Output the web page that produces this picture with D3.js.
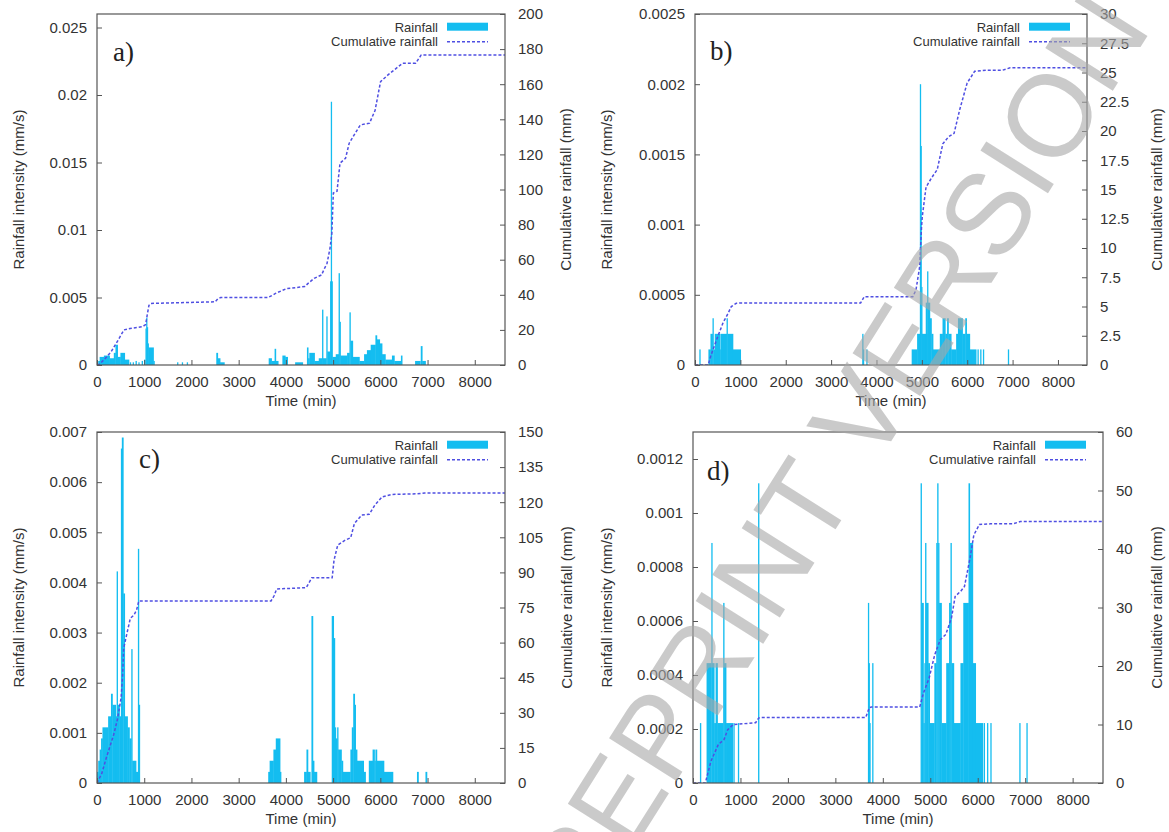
<!DOCTYPE html>
<html><head><meta charset="utf-8">
<script src="https://cdn.jsdelivr.net/npm/d3@7"></script>
<style>
body{margin:0;background:#fff}
svg{display:block}
</style>
</head><body>
<svg id="chart" width="1169" height="832"></svg>
<script>
// ---------------- DATA ----------------
const timeTicks = [0,1000,2000,3000,4000,5000,6000,7000,8000];
const timeTickLabels = ["0","1000","2000","3000","4000","5000","6000","7000","8000"];
const seriesNames = ["Rainfall","Cumulative rainfall"];
const panelNames = ["a)","b)","c)","d)"];

// rainfall intensity runs: [start (min), end (min), intensity (mm/s)]
const rainA = [
 [30,60,0.0003],[60,150,0.0006],[150,270,0.0007],[270,360,0.0005],[360,395,0.0009],[395,440,0.0015],
 [440,500,0.0006],[500,590,0.0009],[590,680,0.0004],[700,715,0.0002],[760,775,0.0002],[820,840,0.0003],
 [880,895,0.0002],[950,970,0.0003],[1000,1020,0.0004],[1030,1045,0.0027],[1045,1060,0.0035],[1060,1075,0.0028],
 [1075,1095,0.0016],[1095,1200,0.0013],[1200,1215,0.0003],[1700,1715,0.0002],[1800,1815,0.0002],[1905,1920,0.0002],
 [2530,2560,0.0009],[2560,2610,0.0005],[2610,2700,0.0002],[3640,3700,0.0005],[3700,3765,0.0003],[3765,3790,0.0012],
 [3790,3840,0.0003],[3930,3990,0.0007],[3990,4040,0.0006],[4200,4360,0.0002],[4450,4475,0.0013],[4475,4500,0.0005],
 [4500,4610,0.0009],[4610,4700,0.0003],[4700,4770,0.0005],[4770,4790,0.0041],[4790,4860,0.0005],[4860,4880,0.0036],
 [4880,4940,0.001],[4940,4955,0.0062],[4955,4970,0.0195],[4970,4990,0.0062],[4990,5060,0.0006],[5060,5120,0.0008],
 [5120,5140,0.0068],[5140,5160,0.0032],[5160,5300,0.0007],[5300,5350,0.0009],[5350,5370,0.0039],[5370,5420,0.0018],
 [5420,5560,0.0006],[5560,5660,0.0003],[5660,5720,0.0008],[5720,5800,0.0011],[5800,5900,0.0015],[5900,5930,0.0022],
 [5930,5990,0.0019],[5990,6040,0.0016],[6040,6110,0.0008],[6110,6250,0.0004],[6250,6300,0.0007],[6300,6440,0.0003],
 [6440,6465,0.0007],[6740,6850,0.0003],[6860,6890,0.0014],[6890,6960,0.0003]
];
const rainB = [
 [100,115,0.000111],[300,345,0.000111],[345,390,0.000222],[390,410,0.000333],[410,440,0.000111],[440,560,0.000222],
 [560,575,0.000111],[575,700,0.000222],[700,720,0.000333],[720,840,0.000222],[840,1010,0.000111],
 [3690,3705,0.000222],[3705,3720,0.000111],[3780,3795,0.000111],
 [4780,4900,0.000111],[4900,4960,0.000222],[4960,4975,0.002],[4975,4990,0.00156],[4990,5005,0.000556],
 [5005,5090,0.000222],[5090,5105,0.000444],[5105,5120,0.000222],[5120,5135,0.000667],[5135,5180,0.000444],
 [5180,5215,0.000333],[5215,5250,0.000222],[5250,5400,0.000111],[5400,5460,0.000222],[5460,5520,0.000333],
 [5520,5560,0.000222],[5560,5590,0.000333],[5590,5650,0.000222],[5650,5760,0.000111],[5760,5800,0.000222],
 [5800,5900,0.000333],[5900,5960,0.000222],[5960,5990,0.000333],[5990,6060,0.000222],[6060,6200,0.000111],
 [6230,6245,0.000111],[6290,6305,0.000111],[6350,6365,0.000111],[6900,6915,0.000111]
];
const rainC = [
 [0,30,0.000222],[30,60,0.000444],[60,90,0.000667],[90,120,0.000889],[120,240,0.00111],[240,300,0.00133],
 [300,330,0.00178],[330,400,0.00156],[400,420,0.00133],[420,440,0.00422],[440,480,0.00156],[480,510,0.00133],
 [510,530,0.00667],[530,560,0.00689],[560,590,0.00378],[590,650,0.00133],[650,690,0.00111],[690,730,0.000889],
 [730,750,0.00267],[750,830,0.000444],[830,870,0.000222],[870,890,0.00467],[890,905,0.00156],
 [3630,3660,0.000222],[3660,3740,0.000444],[3740,3790,0.000667],[3790,3880,0.000889],[3880,3900,0.000222],
 [4390,4440,0.000222],[4440,4470,0.000667],[4470,4520,0.000222],[4545,4575,0.00333],[4575,4600,0.000444],
 [4600,4660,0.000222],[4975,5015,0.00333],[5015,5040,0.00289],[5040,5060,0.00111],[5060,5090,0.000889],
 [5090,5110,0.00111],[5110,5180,0.000667],[5180,5210,0.000444],[5210,5370,0.000222],[5370,5400,0.000667],
 [5400,5430,0.00111],[5430,5460,0.00178],[5460,5480,0.00156],[5480,5510,0.000667],[5510,5650,0.000444],
 [5650,5690,0.000222],[5760,5840,0.000444],[5840,5880,0.000667],[5880,5900,0.000444],[5900,5930,0.000667],
 [5930,6080,0.000444],[6080,6270,0.000222],[6780,6810,0.000222],[6960,6990,0.000222]
];
const rainD = [
 [150,170,0.000222],[290,390,0.000444],[390,405,0.000889],[405,450,0.000444],[450,480,0.000222],[480,520,0.000444],
 [520,640,0.000222],[640,660,0.000667],[660,700,0.000444],[700,840,0.000222],[855,870,0.000222],[950,965,0.000222],
 [1375,1395,0.00111],[3690,3705,0.000667],[3705,3720,0.000444],[3720,3740,0.000222],[3780,3795,0.000444],
 [4800,4820,0.00111],[4820,4860,0.000667],[4860,4880,0.000222],[4880,4895,0.000444],[4895,4915,0.000889],
 [4915,4960,0.000667],[4960,4990,0.000444],[4990,5090,0.000222],[5090,5130,0.000444],[5130,5150,0.000889],
 [5150,5170,0.00111],[5170,5190,0.000889],[5190,5240,0.000667],[5240,5340,0.000222],[5340,5400,0.000444],
 [5400,5430,0.000667],[5430,5450,0.000889],[5450,5500,0.000444],[5500,5640,0.000222],[5640,5700,0.000444],
 [5700,5810,0.000667],[5810,5835,0.00111],[5835,5900,0.000889],[5900,5960,0.000444],[5960,6110,0.000222],
 [6130,6145,0.000222],[6200,6215,0.000222],[6270,6285,0.000222],[6880,6895,0.000222],[7030,7045,0.000222]
];

// cumulative rainfall: [time (min), cumulative (mm)]
const cumA = [[0,0],[50,0.5],[150,3],[300,7.6],[450,14.3],[570,20],[700,20.8],[960,21.8],[1030,23],[1060,28],[1100,34],
 [1140,35.1],[2500,36],[2560,37.8],[2620,38.4],[3620,38.4],[3700,39.5],[3780,40.8],[4010,43.5],[4400,44.7],[4470,46.5],
 [4600,49.4],[4755,51.3],[4800,54],[4872,58],[4934,66.5],[4973,75],[5005,98],[5083,99],[5146,115],[5263,117.8],
 [5341,126.4],[5443,131],[5576,136.8],[5771,137.8],[5888,145],[6005,161.5],[6162,165.3],[6475,172],[6749,172],
 [6866,176.7],[8640,176.7]];
const cumB = [[0,0],[290,0],[350,0.8],[470,2.1],[617,3.6],[727,4.4],[800,5.0],[910,5.27],[1000,5.3],[3650,5.3],
 [3730,5.84],[4800,5.84],[4870,6.4],[4952,8.4],[4993,11.8],[5010,12.7],[5092,15.2],[5215,16],[5339,16.7],[5462,18.9],
 [5586,19.5],[5710,19.8],[5833,21.8],[5998,24.1],[6163,25.1],[6410,25.2],[6780,25.2],[6945,25.4],[8640,25.4]];
const cumC = [[0,0],[100,4],[196,10.7],[353,20.6],[431,27],[510,36.3],[540,45],[565,57.6],[627,63.3],[706,70.4],
 [784,71.8],[839,74],[886,77.8],[3686,77.8],[3750,80],[3804,82.9],[4431,83.5],[4549,87.7],[4980,87.7],[5020,95.3],
 [5098,101.7],[5255,103.8],[5372,104.8],[5451,110.9],[5608,114.5],[5765,114.8],[5882,118.7],[6039,122.3],
 [6235,123.3],[6784,123.6],[6941,123.9],[8640,123.9]];
const cumD = [[0,0],[260,0],[377,3.7],[534,6.6],[652,7.4],[731,9.1],[849,10],[1320,10.3],[1383,11.1],[1420,11.2],
 [3639,11.2],[3717,12.9],[3760,13],[4778,13],[4857,15.4],[4975,17.9],[5093,21.9],[5211,24.5],[5328,25.4],
 [5446,28.2],[5525,31.9],[5643,32.8],[5721,33.6],[5839,38.5],[5918,42.4],[6036,44.2],[6271,44.3],[6743,44.3],
 [6900,44.7],[8640,44.7]];

// tick values and labels
const yTicksA = [0,0.005,0.01,0.015,0.02,0.025];
const yLabelsA = ["0","0.005","0.01","0.015","0.02","0.025"];
const y2TicksA = [0,20,40,60,80,100,120,140,160,180,200];
const y2LabelsA = ["0","20","40","60","80","100","120","140","160","180","200"];
const yTicksB = [0,0.0005,0.001,0.0015,0.002,0.0025];
const yLabelsB = ["0","0.0005","0.001","0.0015","0.002","0.0025"];
const y2TicksB = [0,2.5,5,7.5,10,12.5,15,17.5,20,22.5,25,27.5,30];
const y2LabelsB = ["0","2.5","5","7.5","10","12.5","15","17.5","20","22.5","25","27.5","30"];
const yTicksC = [0,0.001,0.002,0.003,0.004,0.005,0.006,0.007];
const yLabelsC = ["0","0.001","0.002","0.003","0.004","0.005","0.006","0.007"];
const y2TicksC = [0,15,30,45,60,75,90,105,120,135,150];
const y2LabelsC = ["0","15","30","45","60","75","90","105","120","135","150"];
const yTicksD = [0,0.0002,0.0004,0.0006,0.0008,0.001,0.0012];
const yLabelsD = ["0","0.0002","0.0004","0.0006","0.0008","0.001","0.0012"];
const y2TicksD = [0,10,20,30,40,50,60];
const y2LabelsD = ["0","10","20","30","40","50","60"];

const xTitle = "Time (min)";
const yTitle = "Rainfall intensity (mm/s)";
const y2Title = "Cumulative rainfall (mm)";
const watermark = "PREPRINT VERSION";

// ---------------- LAYOUT / STYLE ----------------
const FONT = '"Liberation Sans", Arial, Helvetica, sans-serif';
const BAR = "#14bdf0";
const LINE = "#4f4fe2";
const TXT = "#333";
const FRAME = "#555";

const panels = [
 {name:panelNames[0], rain:rainA, cum:cumA, xMax:8640, yMax:0.026, y2Max:200, yT:yTicksA, yL:yLabelsA, y2T:y2TicksA, y2L:y2LabelsA,
  l:97, r:505, t:14, b:365, ytx:18.5, y2tx:566, lab:[113,61]},
 {name:panelNames[1], rain:rainB, cum:cumB, xMax:8640, yMax:0.0025, y2Max:30, yT:yTicksB, yL:yLabelsB, y2T:y2TicksB, y2L:y2LabelsB,
  l:695, r:1087, t:14, b:365, ytx:607, y2tx:1157, lab:[710,60]},
 {name:panelNames[2], rain:rainC, cum:cumC, xMax:8640, yMax:0.007, y2Max:150, yT:yTicksC, yL:yLabelsC, y2T:y2TicksC, y2L:y2LabelsC,
  l:97, r:505, t:432, b:783, ytx:18.5, y2tx:567, lab:[139,468]},
 {name:panelNames[3], rain:rainD, cum:cumD, xMax:8640, yMax:0.0013, y2Max:60, yT:yTicksD, yL:yLabelsD, y2T:y2TicksD, y2L:y2LabelsD,
  l:693, r:1103, t:432, b:783, ytx:607, y2tx:1157, lab:[707,480]}
];

const svg = d3.select("#chart");

panels.forEach((p, i) => {
  const x = d3.scaleLinear().domain([0, p.xMax]).range([p.l, p.r]);
  const y = d3.scaleLinear().domain([0, p.yMax]).range([p.b, p.t]);
  const y2 = d3.scaleLinear().domain([0, p.y2Max]).range([p.b, p.t]);
  const g = svg.append("g");

  const clipId = "clip" + i;
  g.append("clipPath").attr("id", clipId).append("rect")
    .attr("x", p.l).attr("y", p.t).attr("width", p.r - p.l).attr("height", p.b - p.t);

  // bars
  g.append("g").attr("clip-path", `url(#${clipId})`).selectAll("rect").data(p.rain).join("rect")
    .attr("x", d => x(d[0]) - 0.2)
    .attr("width", d => Math.max(x(d[1]) - x(d[0]) + 0.4, 1.3))
    .attr("y", d => y(d[2]))
    .attr("height", d => y(0) - y(d[2]))
    .attr("fill", BAR);

  // cumulative line
  const line = d3.line().x(d => x(d[0])).y(d => y2(d[1]));
  g.append("path").datum(p.cum).attr("d", line)
    .attr("fill", "none").attr("stroke", LINE).attr("stroke-width", 1.5)
    .attr("stroke-dasharray", "3,2").attr("clip-path", `url(#${clipId})`);

  // axes
  const styleAxis = sel => {
    sel.attr("font-family", FONT).attr("font-size", 15);
    sel.select(".domain").remove();
    sel.selectAll(".tick line").attr("stroke", FRAME).attr("stroke-width", 1);
    sel.selectAll(".tick text").attr("fill", TXT);
  };
  g.append("g").attr("transform", `translate(0,${p.b})`)
    .call(d3.axisBottom(x).tickValues(timeTicks).tickFormat((d, k) => timeTickLabels[k]).tickSize(-5).tickSizeOuter(0).tickPadding(11))
    .call(styleAxis);
  g.append("g").attr("transform", `translate(${p.l},0)`)
    .call(d3.axisLeft(y).tickValues(p.yT).tickFormat((d, k) => p.yL[k]).tickSize(-5).tickSizeOuter(0).tickPadding(10))
    .call(styleAxis);
  g.append("g").attr("transform", `translate(${p.r},0)`)
    .call(d3.axisRight(y2).tickValues(p.y2T).tickFormat((d, k) => p.y2L[k]).tickSize(-5).tickSizeOuter(0).tickPadding(13))
    .call(styleAxis);

  // frame
  g.append("rect").attr("x", p.l).attr("y", p.t).attr("width", p.r - p.l).attr("height", p.b - p.t)
    .attr("fill", "none").attr("stroke", FRAME).attr("stroke-width", 1.2);

  // titles
  g.append("text").attr("x", (p.l + p.r) / 2).attr("y", p.b + 41).attr("text-anchor", "middle")
    .attr("font-family", FONT).attr("font-size", 15).attr("fill", TXT).text(xTitle);
  const cy = (p.t + p.b) / 2;
  g.append("text").attr("transform", `translate(${p.ytx},${cy}) rotate(-90)`).attr("text-anchor", "middle")
    .attr("dy", "0.35em").attr("font-family", FONT).attr("font-size", 15).attr("fill", TXT).text(yTitle);
  g.append("text").attr("transform", `translate(${p.y2tx},${cy}) rotate(-90)`).attr("text-anchor", "middle")
    .attr("dy", "0.35em").attr("font-family", FONT).attr("font-size", 15).attr("fill", TXT).text(y2Title);

  // panel label
  g.append("text").attr("x", p.lab[0]).attr("y", p.lab[1])
    .attr("font-family", '"Liberation Serif", "Times New Roman", serif').attr("font-size", 27).attr("fill", "#222").text(p.name);

  // legend
  const swR = p.r - 17, swL = swR - 41;
  g.append("rect").attr("x", swL).attr("y", p.t + 8.7).attr("width", 41).attr("height", 8).attr("fill", BAR);
  g.append("text").attr("x", swL - 9).attr("y", p.t + 17.5).attr("text-anchor", "end")
    .attr("font-family", FONT).attr("font-size", 13).attr("fill", TXT).text(seriesNames[0]);
  g.append("line").attr("x1", swL).attr("x2", swR).attr("y1", p.t + 27.7).attr("y2", p.t + 27.7)
    .attr("stroke", LINE).attr("stroke-width", 1.5).attr("stroke-dasharray", "3,2");
  g.append("text").attr("x", swL - 9).attr("y", p.t + 32).attr("text-anchor", "end")
    .attr("font-family", FONT).attr("font-size", 13).attr("fill", TXT).text(seriesNames[1]);
});

// watermark (partly off-page, as in the reference)
svg.append("text")
  .attr("transform", "translate(813,487) rotate(-57.7)")
  .attr("text-anchor", "middle").attr("dy", "0.36em")
  .attr("font-family", FONT).attr("font-size", 116)
  .attr("fill", "#a8a8a8").attr("opacity", 0.6)
  .text(watermark);
</script>
</body></html>
